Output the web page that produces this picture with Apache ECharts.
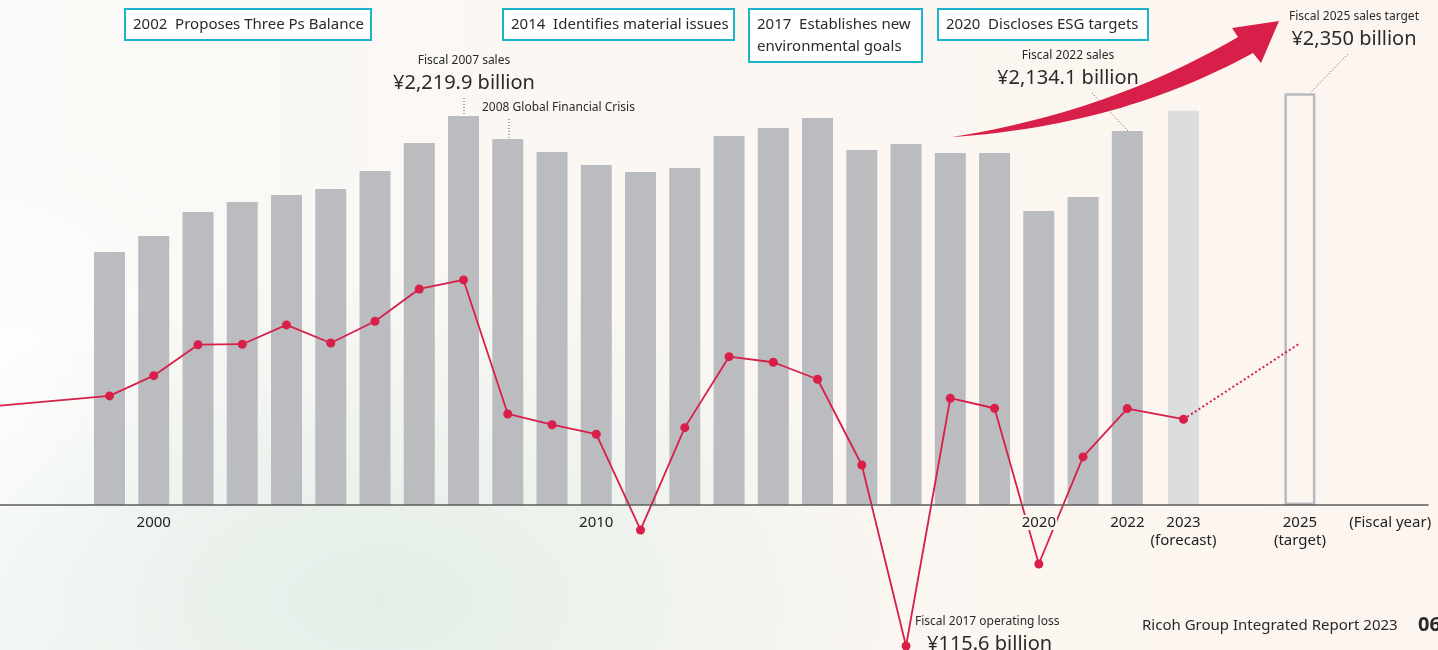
<!DOCTYPE html>
<html>
<head>
<meta charset="utf-8">
<title>Net sales and operating income</title>
<script src="https://cdn.jsdelivr.net/npm/echarts@6/dist/echarts.min.js"></script>
<style>
html, body { margin: 0; padding: 0; }
body {
  width: 1438px;
  height: 650px;
  overflow: hidden;
  background:
    radial-gradient(ellipse 560px 330px at 380px 600px, rgba(226, 238, 231, 0.95), rgba(226, 238, 231, 0) 100%),
    radial-gradient(ellipse 240px 320px at 0px 430px, rgba(255, 255, 255, 0.9), rgba(255, 255, 255, 0) 100%),
    linear-gradient(90deg, #f9f9f7 0%, #fbf7f3 45%, #fdf5ef 100%);
}
#main { width: 1438px; height: 650px; }
</style>
</head>
<body>
<div id="main"></div>
<script>
// fiscal years with actual results
const years = [1999, 2000, 2001, 2002, 2003, 2004, 2005, 2006, 2007, 2008, 2009, 2010,
  2011, 2012, 2013, 2014, 2015, 2016, 2017, 2018, 2019, 2020, 2021, 2022];
// net sales (billion yen)
const sales = [1443.8, 1535.1, 1672.1, 1729.1, 1769.1, 1803.3, 1906.0, 2065.8, 2219.9, 2088.6,
  2014.5, 1940.3, 1900.3, 1923.2, 2105.8, 2151.4, 2208.5, 2025.9, 2060.1, 2008.8,
  2008.8, 1677.8, 1757.7, 2134.1];
// operating income (billion yen)
const operatingIncome = [89.4, 106.0, 131.4, 131.8, 147.6, 132.8, 150.6, 177.1, 184.5, 74.6,
  65.8, 58.0, -20.5, 63.4, 121.6, 117.0, 103.1, 32.8, -115.6, 87.5,
  79.3, -48.4, 39.4, 79.0];
// the line comes in from earlier years, off the left edge
const earlierYears = [1996];
const earlierIncome = [79.7];

// forecast / target, drawn a bit apart from the actual years
const outlookPos = [2023.27, 2025.9];
const outlookSales = [2250, 2350];
const outlookIncome = [70.3, 132.6];

const tickPos = [2000, 2010, 2020, 2022, outlookPos[0], outlookPos[1], 2027.94];
const tickLabels = ['2000', '2010', '{bg|2020}', '2022', '2023\n(forecast)', '2025\n(target)', '(Fiscal year)'];

const RED = '#d81f49';
const FONT = '"Noto Sans", sans-serif';

const barData = years.map((y, i) => [y, sales[i]]).concat([
  { value: [outlookPos[0], outlookSales[0]], itemStyle: { color: '#dcdddf', borderColor: '#dcdddf', borderWidth: 1 } },
  { value: [outlookPos[1], outlookSales[1]], itemStyle: { color: 'rgba(0,0,0,0)', borderColor: '#b9babe', borderWidth: 2.5 } }
]);

const lineData = earlierYears.map((y, i) => [y, earlierIncome[i]])
  .concat(years.map((y, i) => [y, operatingIncome[i]]))
  .concat([[outlookPos[0], outlookIncome[0]]]);
const targetLine = outlookPos.map((x, i) => [x, outlookIncome[i]]);

function box(x, y, w, h, text) {
  return [
    { type: 'rect', shape: { x: x, y: y, width: w, height: h }, style: { fill: '#fff', stroke: '#1bb4ca', lineWidth: 2 }, z: 10 },
    { type: 'text', x: x + 8, y: y + h / 2, z: 11,
      style: { text: text, fill: '#2a2a2a', font: '15px ' + FONT, lineHeight: 22,
        textAlign: 'left', textVerticalAlign: 'middle', align: 'left', verticalAlign: 'middle' } }
  ];
}
function label(x, y, text, size, align, weight) {
  return { type: 'text', x: x, y: y, z: 11,
    style: { text: text, fill: '#2a2a2a', font: (weight || '') + ' ' + size + 'px ' + FONT,
      textAlign: align, textVerticalAlign: 'middle', align: align, verticalAlign: 'middle' } };
}
function dots(x1, y1, x2, y2) {
  return { type: 'line', z: 12, shape: { x1: x1, y1: y1, x2: x2, y2: y2 },
    style: { stroke: '#555', lineWidth: 1, lineDash: [1, 2] } };
}
// quadratic curve sampled into points, for the swoosh arrow outline
function quad(p0, c, p1, n) {
  const pts = [];
  for (let i = 0; i <= n; i++) {
    const t = i / n, u = 1 - t;
    pts.push([u * u * p0[0] + 2 * u * t * c[0] + t * t * p1[0], u * u * p0[1] + 2 * u * t * c[1] + t * t * p1[1]]);
  }
  return pts;
}
const arrowPts = quad([952, 137], [1110, 112], [1238, 37], 30)
  .concat([[1232, 28], [1279, 21], [1261, 63]])
  .concat(quad([1253, 53], [1120, 126], [952, 137], 30));

const myChart = echarts.init(document.getElementById('main'));
const option = {
  animation: false,
  backgroundColor: 'transparent',
  textStyle: { fontFamily: FONT },
  grid: { left: 0, right: 10, top: 0, bottom: 0, containLabel: false, outerBoundsMode: 'none' },
  xAxis: {
    type: 'value',
    min: 1996.5255,
    max: 2028.795,
    z: 5,
    splitLine: { show: false },
    axisTick: { show: false },
    axisLabel: { show: false },
    axisLine: { onZero: true, lineStyle: { color: '#5c5c5c', width: 1.5 } }
  },
  yAxis: [
    { type: 'value', min: -827.5, max: 2881.9, show: false },
    { type: 'value', min: -118.9, max: 414.0, show: false }
  ],
  series: [
    {
      name: 'Net sales',
      type: 'bar',
      yAxisIndex: 0,
      barWidth: 31,
      itemStyle: { color: '#bbbcc0' },
      data: barData
    },
    {
      name: 'Operating income',
      type: 'line',
      yAxisIndex: 1,
      symbol: 'circle',
      symbolSize: 9,
      itemStyle: { color: RED },
      lineStyle: { color: RED, width: 1.8 },
      data: lineData
    },
    {
      name: 'Operating income target',
      type: 'line',
      yAxisIndex: 1,
      showSymbol: false,
      lineStyle: { color: RED, width: 2, type: [2, 2.5] },
      data: targetLine
    },
    {
      // year labels under the axis line
      name: 'Fiscal year',
      type: 'scatter',
      yAxisIndex: 0,
      z: 6,
      silent: true,
      symbolSize: 1,
      itemStyle: { color: 'rgba(0,0,0,0)', opacity: 1 },
      label: {
        show: true,
        position: 'bottom',
        distance: 8,
        opacity: 1,
        formatter: (p) => tickLabels[p.dataIndex],
        color: '#222',
        fontSize: 15,
        fontFamily: FONT,
        lineHeight: 18,
        align: 'center',
        rich: { bg: { backgroundColor: '#fcf6f1', padding: [0, 1], color: '#222', fontSize: 15, lineHeight: 18 } }
      },
      data: tickPos.map((p) => [p, 0])
    }
  ],
  graphic: [].concat(
    box(125, 9, 246, 31, '2002  Proposes Three Ps Balance'),
    box(503, 9, 231, 31, '2014  Identifies material issues'),
    box(749, 9, 173, 53, '2017  Establishes new\nenvironmental goals'),
    box(938, 9, 210, 31, '2020  Discloses ESG targets'),
    [
      { type: 'polygon', z: 8, shape: { points: arrowPts }, style: { fill: RED } },
      label(464, 61, 'Fiscal 2007 sales', 12, 'center'),
      label(464, 83, '¥2,219.9 billion', 20, 'center'),
      dots(464, 98, 464, 115),
      label(482, 108, '2008 Global Financial Crisis', 12, 'left'),
      dots(509, 119, 509, 138),
      label(1068, 56, 'Fiscal 2022 sales', 12, 'center'),
      label(1068, 78, '¥2,134.1 billion', 20, 'center'),
      dots(1092, 93, 1128, 131),
      label(1354, 17, 'Fiscal 2025 sales target', 12, 'center'),
      label(1354, 39, '¥2,350 billion', 20, 'center'),
      dots(1348, 54, 1311, 92),
      label(915, 622, 'Fiscal 2017 operating loss', 12, 'left'),
      label(927, 644, '¥115.6 billion', 20, 'left'),
      label(1142, 626, 'Ricoh Group Integrated Report 2023', 15, 'left'),
      label(1418, 625, '06', 20, 'left', 'bold')
    ]
  )
};
myChart.setOption(option);
</script>
</body>
</html>
